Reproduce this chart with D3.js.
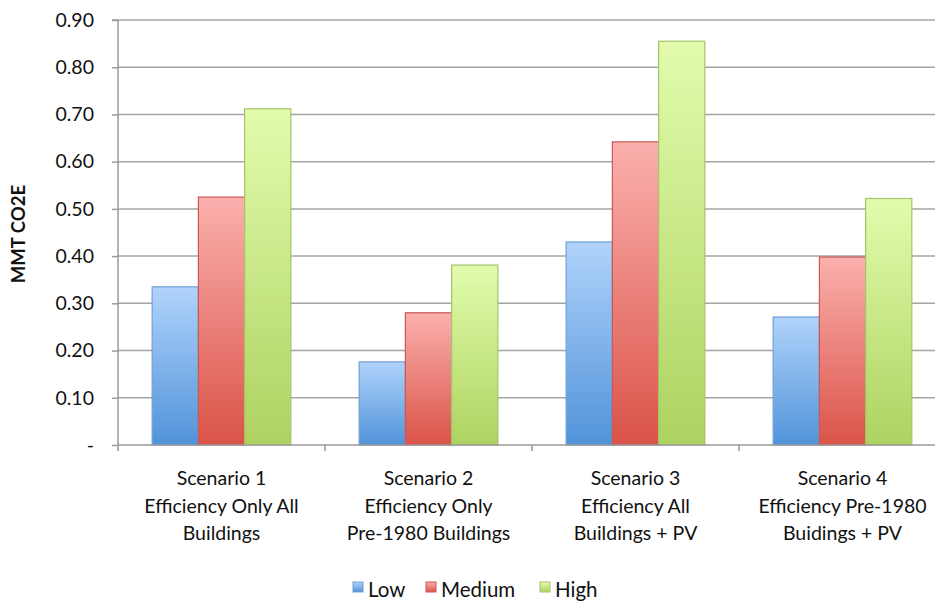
<!DOCTYPE html>
<html>
<head>
<meta charset="utf-8">
<script src="https://cdn.jsdelivr.net/npm/d3@7"></script>
<style>
  html, body { margin: 0; padding: 0; background: #fff; }
  svg text { font-family: Lato, "Open Sans", sans-serif; fill: #111; }
</style>
</head>
<body>
<svg id="chart" width="935" height="603"></svg>
<script>
// Scenario categories (multi-line labels)
const categories = [
  ["Scenario 1", "Efficiency Only All", "Buildings"],
  ["Scenario 2", "Efficiency Only", "Pre-1980 Buildings"],
  ["Scenario 3", "Efficiency All", "Buildings + PV"],
  ["Scenario 4", "Efficiency Pre-1980", "Buidings + PV"]
];
const seriesNames = ["Low", "Medium", "High"];
const lowValues    = [0.335, 0.176, 0.430, 0.271];
const mediumValues = [0.525, 0.280, 0.642, 0.398];
const highValues   = [0.712, 0.381, 0.855, 0.522];
const yTicks = [0, 0.1, 0.2, 0.3, 0.4, 0.5, 0.6, 0.7, 0.8, 0.9];
const yTitle = "MMT CO2E";

const seriesValues = [lowValues, mediumValues, highValues];
const palette = {
  Low:    { top: "#b0d3fb", bottom: "#5193d9", stroke: "#6f9fd6" },
  Medium: { top: "#fbb0ad", bottom: "#da5348", stroke: "#c95a55" },
  High:   { top: "#e2fcad", bottom: "#aed260", stroke: "#a5c468" }
};

const svg = d3.select("#chart");
const plotLeft = 118, plotRight = 946, plotTop = 20, plotBottom = 445;

const x0 = d3.scaleBand()
  .domain(d3.range(categories.length))
  .range([plotLeft, plotRight])
  .paddingInner(0.33)
  .paddingOuter(0.165);
const x1 = d3.scaleBand()
  .domain(seriesNames)
  .range([0, x0.bandwidth()]);
const y = d3.scaleLinear().domain([0, 0.9]).range([plotBottom, plotTop]);

// vertical gradients for bars and legend swatches
const defs = svg.append("defs");
seriesNames.forEach(n => {
  const g = defs.append("linearGradient")
    .attr("id", "grad-" + n)
    .attr("x1", 0).attr("y1", 0).attr("x2", 0).attr("y2", 1);
  g.append("stop").attr("offset", "0%").attr("stop-color", palette[n].top);
  g.append("stop").attr("offset", "100%").attr("stop-color", palette[n].bottom);
});

// horizontal gridlines
svg.append("g")
  .selectAll("line")
  .data(yTicks.filter(t => t > 0))
  .join("line")
  .attr("x1", plotLeft).attr("x2", 935)
  .attr("y1", d => y(d)).attr("y2", d => y(d))
  .attr("stroke", "#a4a4a4")
  .attr("stroke-width", 1.5);

// y axis
const yAxis = d3.axisLeft(y)
  .tickValues(yTicks)
  .tickSize(6)
  .tickPadding(18)
  .tickFormat(d => d === 0 ? "-" : d3.format(".2f")(d));
const yg = svg.append("g").attr("transform", `translate(${plotLeft},0)`).call(yAxis);
yg.select(".domain").attr("stroke", "#9a9a9a").attr("stroke-width", 1.5)
  .attr("d", `M-6,${plotTop}H0V${plotBottom}`);
yg.selectAll(".tick line").attr("stroke", "#9a9a9a").attr("stroke-width", 1.5);
yg.selectAll(".tick text").attr("font-size", 19.5).attr("fill", "#111")
  .style("font-family", "Lato, 'Open Sans', sans-serif");

// bars
const groups = svg.append("g")
  .selectAll("g")
  .data(categories.map((c, i) => i))
  .join("g")
  .attr("transform", i => `translate(${x0(i)},0)`);

groups.selectAll("rect")
  .data(i => seriesNames.map((n, k) => ({ name: n, value: seriesValues[k][i] })))
  .join("rect")
  .attr("x", d => x1(d.name))
  .attr("y", d => y(d.value))
  .attr("width", x1.bandwidth())
  .attr("height", d => y(0) - y(d.value))
  .attr("fill", d => `url(#grad-${d.name})`)
  .attr("stroke", d => palette[d.name].stroke)
  .attr("stroke-width", 1.2);

// x axis baseline with category ticks
const xTickPos = d3.range(categories.length + 1).map(i => plotLeft + i * x0.step());
svg.append("line")
  .attr("x1", plotLeft).attr("x2", 935)
  .attr("y1", plotBottom).attr("y2", plotBottom)
  .attr("stroke", "#9a9a9a").attr("stroke-width", 1.5);
svg.append("g")
  .selectAll("line")
  .data(xTickPos.filter(p => p <= 935))
  .join("line")
  .attr("x1", d => d).attr("x2", d => d)
  .attr("y1", plotBottom).attr("y2", plotBottom + 6)
  .attr("stroke", "#9a9a9a").attr("stroke-width", 1.5);

// category labels
const labels = svg.append("g")
  .selectAll("text")
  .data(categories.map((c, i) => ({ lines: c, i })))
  .join("text")
  .attr("text-anchor", "middle")
  .attr("font-size", 19.5)
  .attr("transform", d => `translate(${x0(d.i) + x0.bandwidth() / 2},485)`);
labels.selectAll("tspan")
  .data(d => d.lines)
  .join("tspan")
  .attr("x", 0)
  .attr("dy", (d, k) => k === 0 ? 0 : 27.5)
  .text(d => d);

// y title
svg.append("text")
  .attr("transform", "translate(25,234) rotate(-90)")
  .attr("text-anchor", "middle")
  .attr("font-size", 18.5)
  .attr("font-weight", "bold")
  .text(yTitle);

// legend
const legendX = [353, 426, 540];
const legend = svg.append("g")
  .selectAll("g")
  .data(seriesNames)
  .join("g")
  .attr("transform", (d, k) => `translate(${legendX[k]},582)`);
legend.append("rect")
  .attr("width", 10).attr("height", 10)
  .attr("fill", d => `url(#grad-${d})`)
  .attr("stroke", d => palette[d].stroke)
  .attr("stroke-width", 1);
legend.append("text")
  .attr("x", 15).attr("y", 15)
  .attr("font-size", 20.5)
  .text(d => d);
</script>
</body>
</html>
